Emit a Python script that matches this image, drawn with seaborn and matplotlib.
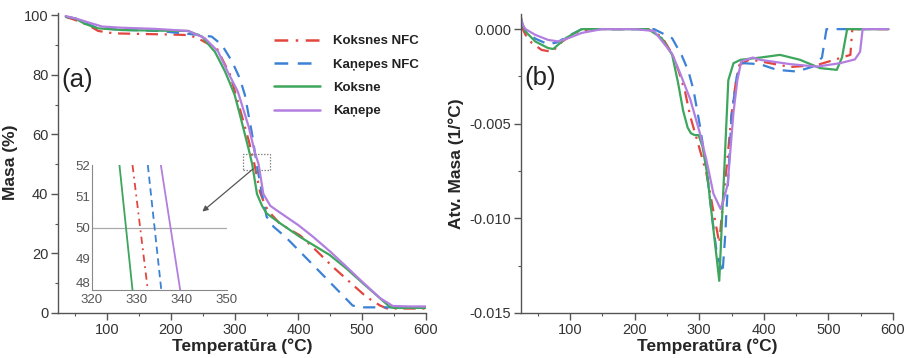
import numpy as np
import pandas as pd
import matplotlib
matplotlib.use("Agg")
import matplotlib.pyplot as plt
from matplotlib.lines import Line2D
from matplotlib.patches import Rectangle
from matplotlib.ticker import MultipleLocator, FuncFormatter
import seaborn as sns

# ---------------- data ----------------
series_names = ["Koksnes NFC", "Kaņepes NFC", "Koksne", "Kaņepe"]

# TGA: mass (%) vs temperature (°C)
tga_koksnes_nfc_T = [35, 50, 70, 86, 110, 150, 200, 228, 242, 258, 272, 293, 309, 322, 331, 340, 348, 356, 371, 403, 423, 455, 480, 506, 528, 539, 570, 600]
tga_koksnes_nfc_m = [99.5, 98.5, 96.8, 94.8, 94.0, 93.8, 93.6, 93.4, 92.4, 90.5, 89.0, 80.0, 68.0, 58.0, 50.0, 40.5, 36.0, 33.5, 30.0, 26.0, 22.0, 15.3, 10.5, 5.5, 2.5, 1.5, 1.5, 1.5]

tga_kanepes_nfc_T = [35, 50, 65, 85, 120, 180, 242, 264, 280, 296, 308, 316, 327, 334.5, 343, 350, 361, 380, 403, 430, 455, 485, 497, 530, 560]
tga_kanepes_nfc_m = [99.6, 99.0, 97.5, 95.8, 95.2, 94.8, 93.5, 92.9, 90.1, 84.5, 78.9, 73.3, 60.5, 50.0, 40.0, 32.4, 29.0, 25.5, 20.5, 14.6, 9.1, 2.5, 1.9, 1.9, 1.9]

tga_koksne_T = [35, 50, 65, 85, 123, 180, 227, 249, 262, 269, 277, 285, 293, 300, 309, 322, 327.5, 335, 343, 350, 371, 403, 449, 475, 501, 525, 543, 550, 575, 600]
tga_koksne_m = [99.6, 99.0, 97.2, 95.7, 95.1, 94.9, 94.8, 92.9, 89.5, 87.8, 84.5, 81.1, 77.0, 73.3, 66.0, 55.0, 50.0, 40.0, 36.0, 33.5, 30.2, 25.5, 19.5, 15.0, 10.0, 5.5, 2.1, 1.7, 1.7, 1.7]

tga_kanepe_T = [35, 54, 70, 92, 120, 175, 227, 253, 274, 289, 305, 322, 332, 337.5, 345, 356, 366, 400, 423, 450, 475, 500, 528, 548, 575, 600]
tga_kanepe_m = [99.8, 98.8, 97.7, 96.3, 95.9, 95.5, 94.8, 92.4, 87.9, 81.1, 74.4, 62.6, 53.7, 50.0, 40.0, 36.0, 34.5, 29.5, 25.6, 20.6, 15.6, 10.5, 5.0, 2.35, 2.2, 2.2]

# DTG: mass derivative (1/°C) vs temperature (°C)
dtg_koksnes_nfc_T = [24, 31, 41, 56, 72, 88, 108, 130, 180, 221, 242, 258, 268, 278, 286, 297, 311, 317, 325, 331, 337, 343, 350, 357, 362, 378, 394, 441, 482, 518, 534, 537, 560, 593]
dtg_koksnes_nfc_v = [0.0002, -0.0003, -0.00074, -0.0011, -0.0012, -0.00065, -0.0002, 0.0, 0.0, 0.0, -0.0004, -0.0013, -0.0022, -0.0033, -0.0046, -0.0059, -0.0076, -0.0087, -0.0102, -0.0113, -0.009, -0.0071, -0.0045, -0.0027, -0.0019, -0.0016, -0.0017, -0.002, -0.0019, -0.00153, -0.00136, 0.0, 0.0, 0.0]

dtg_kanepes_nfc_T = [24, 31, 46, 66, 80, 95, 118, 160, 230, 258, 273, 283, 291, 301, 311, 319, 327, 336, 340, 345, 350, 358, 368, 394, 420, 451, 476, 490, 497, 520, 560]
dtg_kanepes_nfc_v = [0.0004, -0.0001, -0.0005, -0.0008, -0.0007, -0.0004, 0.0, 0.0, 0.0, -0.00048, -0.0014, -0.0022, -0.0032, -0.0051, -0.0073, -0.0097, -0.0118, -0.0129, -0.011, -0.0078, -0.0046, -0.0025, -0.0018, -0.00185, -0.00215, -0.00224, -0.00198, -0.0015, 0.0, 0.0, 0.0]

dtg_koksne_T = [24, 26, 31, 46, 66, 74, 93, 118, 160, 221, 242, 258, 267, 275, 282, 287, 293, 299, 305, 312, 322, 331, 338, 345, 353, 364, 395, 425, 456, 487, 513, 521, 529, 560, 593]
dtg_koksne_v = [0.0006, 0.0003, -0.00013, -0.00065, -0.0010, -0.00105, -0.00048, 0.0, 0.0, 0.0, -0.00048, -0.00136, -0.0028, -0.0043, -0.0052, -0.0055, -0.0056, -0.0056, -0.0062, -0.0076, -0.0106, -0.0133, -0.008, -0.0027, -0.0018, -0.00162, -0.0015, -0.00136, -0.00162, -0.00206, -0.00215, -0.0015, 0.0, 0.0, 0.0]

dtg_kanepe_T = [24, 27, 31, 46, 66, 82, 97, 118, 149, 200, 230, 258, 270, 286, 301, 311, 322, 333, 338, 344, 348, 353, 359, 365, 383, 394, 441, 482, 518, 541, 549, 553, 593]
dtg_kanepe_v = [0.0006, 0.0002, 0.0, -0.0003, -0.00057, -0.00065, -0.00048, -0.0002, 0.0, 0.0, -0.0001, -0.0013, -0.0023, -0.0037, -0.0055, -0.0069, -0.0087, -0.0095, -0.009, -0.0082, -0.0065, -0.0044, -0.0027, -0.0017, -0.0015, -0.00162, -0.00185, -0.00198, -0.0018, -0.0016, -0.0012, 0.0, 0.0]

# zoomed detail around 50 % mass: temperature at 52 % and at 48 %
inset_T_at_52 = [329.0, 332.4, 326.1, 335.3]
inset_T_at_48 = [332.4, 335.4, 329.0, 339.6]
inset_x_ticks = [320, 330, 340, 350]
inset_y_ticks = [48, 49, 50, 51, 52]

# ---------------- styling ----------------
palette = {"Koksnes NFC": "#e2463f", "Kaņepes NFC": "#3b82d6",
           "Koksne": "#3da65c", "Kaņepe": "#b27fe0"}
dashes = {"Koksnes NFC": (5.5, 3.0, 1.0, 3.0), "Kaņepes NFC": (5.5, 3.8),
          "Koksne": "", "Kaņepe": ""}
inset_dashes = {"Koksnes NFC": (4.0, 2.5, 1.0, 2.5), "Kaņepes NFC": (4.0, 2.5),
                "Koksne": "", "Kaņepe": ""}

sns.set_style("white")
plt.rcParams["font.family"] = ["Liberation Sans", "DejaVu Sans"]
plt.rcParams["axes.unicode_minus"] = False

tga = pd.concat([
    pd.DataFrame({"T": tga_koksnes_nfc_T, "m": tga_koksnes_nfc_m, "series": "Koksnes NFC"}),
    pd.DataFrame({"T": tga_kanepes_nfc_T, "m": tga_kanepes_nfc_m, "series": "Kaņepes NFC"}),
    pd.DataFrame({"T": tga_koksne_T, "m": tga_koksne_m, "series": "Koksne"}),
    pd.DataFrame({"T": tga_kanepe_T, "m": tga_kanepe_m, "series": "Kaņepe"}),
], ignore_index=True)

dtg = pd.concat([
    pd.DataFrame({"T": dtg_koksnes_nfc_T, "v": dtg_koksnes_nfc_v, "series": "Koksnes NFC"}),
    pd.DataFrame({"T": dtg_kanepes_nfc_T, "v": dtg_kanepes_nfc_v, "series": "Kaņepes NFC"}),
    pd.DataFrame({"T": dtg_koksne_T, "v": dtg_koksne_v, "series": "Koksne"}),
    pd.DataFrame({"T": dtg_kanepe_T, "v": dtg_kanepe_v, "series": "Kaņepe"}),
], ignore_index=True)

inset = pd.concat([
    pd.DataFrame({"T": [t52, t48], "m": [52, 48], "series": name})
    for name, t52, t48 in zip(series_names, inset_T_at_52, inset_T_at_48)
], ignore_index=True)

W, H = 908, 358
fig = plt.figure(figsize=(W / 100, H / 100), dpi=100)

def box(l, r, t, b):
    return [l / W, 1 - b / H, (r - l) / W, (b - t) / H]

ax1 = fig.add_axes(box(58, 426, 12.5, 313))
ax2 = fig.add_axes(box(521, 893, 14, 313))

spine_col = "#555555"
text_col = "#333333"

def style_axes(ax):
    for s in ("top", "right"):
        ax.spines[s].set_visible(False)
    for s in ("left", "bottom"):
        ax.spines[s].set_color(spine_col)
        ax.spines[s].set_linewidth(1.0)
    ax.tick_params(which="major", direction="out", length=5, width=1.0,
                   color=spine_col, labelsize=10.5, labelcolor=text_col,
                   left=True, bottom=True, pad=2)
    ax.tick_params(which="minor", direction="out", length=2.5, width=0.8,
                   color=spine_col, left=True, bottom=True)

order = series_names
# ---------- (a) TGA ----------
sns.lineplot(data=tga, x="T", y="m", hue="series", style="series",
             hue_order=order, style_order=order, palette=palette, dashes=dashes,
             estimator=None, sort=False, lw=1.6, legend=False, ax=ax1)
ax1.set_xlim(23, 600)
ax1.set_ylim(0, 101)
ax1.xaxis.set_major_locator(MultipleLocator(100))
ax1.xaxis.set_minor_locator(MultipleLocator(50))
ax1.yaxis.set_major_locator(MultipleLocator(20))
ax1.yaxis.set_minor_locator(MultipleLocator(10))
style_axes(ax1)
ax1.set_xlabel("Temperatūra (°C)", fontsize=12.5, fontweight="bold", labelpad=1)
ax1.set_ylabel("Masa (%)", fontsize=12.5, fontweight="bold", labelpad=4)
ax1.text(0.01, 0.775, "(a)", transform=ax1.transAxes, fontsize=18.5,
         color="#222222", va="center", ha="left")

# dotted box marking the zoomed region and arrow toward the detail
ax1.add_patch(Rectangle((313, 48), 42, 5.4, fill=False, ls=(0, (1.2, 1.2)),
                        lw=0.9, ec="#888888", zorder=5))
ax1.annotate("", xy=(246, 33.5), xytext=(332, 49),
             arrowprops=dict(arrowstyle="-|>", color="#555555", lw=0.9,
                             mutation_scale=8), zorder=6)

handles = []
for n in order:
    h = Line2D([], [], color=palette[n], lw=1.8)
    if dashes[n]:
        h.set_dashes(dashes[n])
    handles.append(h)
leg = ax1.legend(handles, order, loc="upper left", bbox_to_anchor=(0.555, 0.965),
                 frameon=False, handlelength=3.5, handletextpad=1.0,
                 labelspacing=0.85, prop={"weight": "bold", "size": 9.5})
for t in leg.get_texts():
    t.set_color("#222222")

# inset with the detail around 50 %
axi = fig.add_axes(box(92, 227, 165, 290))
axi.patch.set_alpha(0)
axi.axhline(50, color="#aaaaaa", lw=0.9, zorder=1)
sns.lineplot(data=inset, x="T", y="m", hue="series", style="series",
             hue_order=order, style_order=order, palette=palette,
             dashes=inset_dashes, estimator=None, sort=False, lw=1.3,
             legend=False, ax=axi)
axi.set_xlim(320, 350)
axi.set_ylim(48, 52)
axi.set_xticks(inset_x_ticks)
axi.set_yticks(inset_y_ticks)
axi.xaxis.set_minor_locator(MultipleLocator(5))
axi.yaxis.set_minor_locator(MultipleLocator(0.5))
for s in ("top", "right"):
    axi.spines[s].set_visible(False)
for s in ("left", "bottom"):
    axi.spines[s].set_color("#888888")
    axi.spines[s].set_linewidth(0.8)
axi.tick_params(which="major", direction="in", length=3, width=0.7, color="#888888",
                labelsize=9.5, labelcolor="#555555", pad=1)
axi.tick_params(axis="x", which="major", pad=3)
axi.tick_params(which="minor", direction="in", length=1.5, width=0.6, color="#888888")
# lift the lowest y label so it sits just above the 320 label
axi.yaxis.get_major_ticks()[0].label1.set_verticalalignment("bottom")
axi.set_xlabel("")
axi.set_ylabel("")

# ---------- (b) DTG ----------
sns.lineplot(data=dtg, x="T", y="v", hue="series", style="series",
             hue_order=order, style_order=order, palette=palette, dashes=dashes,
             estimator=None, sort=False, lw=1.6, legend=False, ax=ax2)
ax2.set_xlim(24, 600)
ax2.set_ylim(-0.015, 0.0008)
ax2.xaxis.set_major_locator(MultipleLocator(100))
ax2.xaxis.set_minor_locator(MultipleLocator(50))
ax2.yaxis.set_major_locator(MultipleLocator(0.005))
ax2.yaxis.set_minor_locator(MultipleLocator(0.0025))
ax2.yaxis.set_major_formatter(FuncFormatter(lambda v, p: f"{v:.3f}"))
style_axes(ax2)
ax2.set_xlabel("Temperatūra (°C)", fontsize=12.5, fontweight="bold", labelpad=1)
ax2.set_ylabel("Atv. Masa (1/°C)", fontsize=12.5, fontweight="bold", labelpad=4)
ax2.text(0.01, 0.785, "(b)", transform=ax2.transAxes, fontsize=18.5,
         color="#222222", va="center", ha="left")

fig.savefig("out.png", dpi=100)
